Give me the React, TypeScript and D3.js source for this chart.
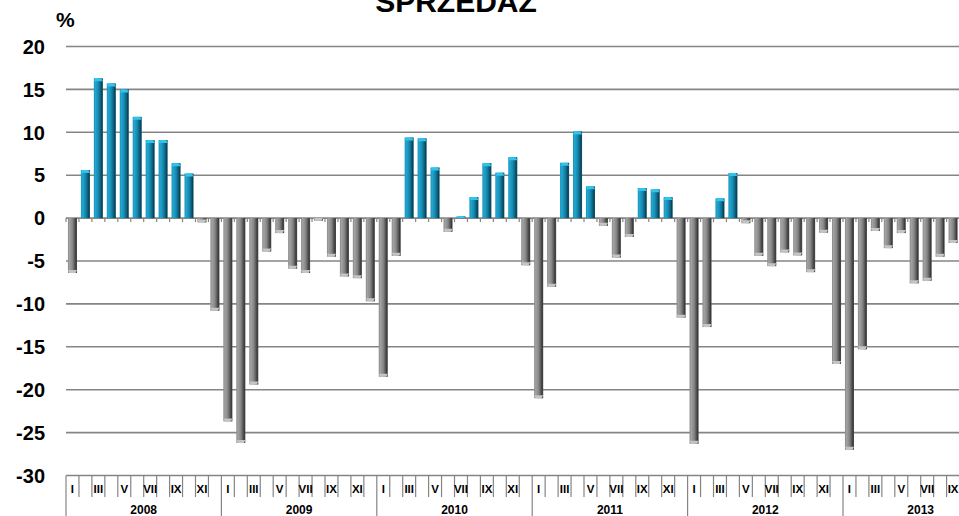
import React from "react";
import * as d3 from "d3";

const years = ["2008", "2009", "2010", "2011", "2012", "2013"];
const monthLabels = ["I", "II", "III", "IV", "V", "VI", "VII", "VIII", "IX", "X", "XI", "XII"];
const values2008 = [-6.4, 5.6, 16.3, 15.7, 15.0, 11.8, 9.1, 9.1, 6.4, 5.2, -0.5, -10.8];
const values2009 = [-23.7, -26.2, -19.4, -3.9, -1.75, -5.9, -6.4, -0.3, -4.5, -6.8, -7.0, -9.7];
const values2010 = [-18.5, -4.4, 9.4, 9.3, 5.9, -1.6, 0.2, 2.45, 6.4, 5.3, 7.1, -5.5];
const values2011 = [-21.0, -8.0, 6.45, 10.1, 3.7, -0.9, -4.6, -2.2, 3.5, 3.35, 2.45, -11.6];
const values2012 = [-26.3, -12.7, 2.3, 5.25, -0.6, -4.4, -5.6, -4.0, -4.35, -6.3, -1.7, -17.0];
const values2013 = [-27.0, -15.3, -1.5, -3.5, -1.75, -7.6, -7.3, -4.5, -2.9];
const yTicks = [20, 15, 10, 5, 0, -5, -10, -15, -20, -25, -30];
const title = "SPRZEDAŻ";
const unit = "%";

const allValues = [values2008, values2009, values2010, values2011, values2012, values2013];
const categories = years.flatMap((y) => monthLabels.map((m) => `${y}-${m}`));
const data = allValues.flatMap((arr, yi) =>
  arr.map((v, mi) => ({ key: `${years[yi]}-${monthLabels[mi]}`, year: years[yi], month: mi, value: v }))
);

const W = 959;
const H = 516;
const FONT = "'Liberation Sans', Arial, sans-serif";

export default function App() {
  const step = 12.95;
  const x0 = 66;
  const x = d3
    .scaleBand<string>()
    .domain(categories)
    .range([x0, x0 + step * categories.length])
    .paddingInner(0.3)
    .paddingOuter(0.15);
  const y = d3.scaleLinear().domain([-30, 20]).range([475.5, 46.5]);
  const y0 = y(0);
  const gridColor = "#858585";
  const xEnd = x0 + step * categories.length;
  const bw = x.bandwidth();
  const stepPx = x.step();
  const boundary = (i: number) => x0 + (x.range()[1] - x0) * (i / categories.length);

  return (
    <svg
      width={W}
      height={H}
      style={{ position: "absolute", left: 0, top: 0, background: "#fff" }}
      fontFamily={FONT}
    >
      <defs>
        <linearGradient id="gBlue" x1="0" x2="1" y1="0" y2="0">
          <stop offset="0" stopColor="#1a93bb" />
          <stop offset="0.18" stopColor="#22a6cf" />
          <stop offset="0.5" stopColor="#1589b0" />
          <stop offset="0.72" stopColor="#0e6584" />
          <stop offset="0.88" stopColor="#0a4457" />
          <stop offset="1" stopColor="#0e5a72" />
        </linearGradient>
        <linearGradient id="gGray" x1="0" x2="1" y1="0" y2="0">
          <stop offset="0" stopColor="#8a8a8a" />
          <stop offset="0.18" stopColor="#a2a2a2" />
          <stop offset="0.5" stopColor="#868686" />
          <stop offset="0.72" stopColor="#5c5c5c" />
          <stop offset="0.88" stopColor="#3a3a3a" />
          <stop offset="1" stopColor="#505050" />
        </linearGradient>
        <clipPath id="clipAll">
          <rect x={0} y={0} width={W} height={H} />
        </clipPath>
      </defs>
      <g clipPath="url(#clipAll)">
        {/* title */}
        <text x={456} y={12} fontSize={30} fontWeight="bold" textAnchor="middle" fill="#000">
          {title}
        </text>
        <text x={56} y={27} fontSize={21} fontWeight="bold" fill="#000">
          {unit}
        </text>
        {/* gridlines */}
        {yTicks
          .filter((t) => t !== -30)
          .map((t) => (
            <line key={t} x1={x0} x2={xEnd} y1={y(t)} y2={y(t)} stroke={gridColor} strokeWidth={1.6} />
          ))}
        {/* y labels */}
        {yTicks.map((t) => (
          <text
            key={"l" + t}
            x={45}
            y={y(t)}
            dy="0.36em"
            fontSize={20}
            fontWeight="bold"
            textAnchor="end"
            fill="#000"
          >
            {t}
          </text>
        ))}
        {/* bars */}
        {data.map((d) => {
          const bx = x(d.key)!;
          const yv = y(d.value);
          const pos = d.value >= 0;
          const top = Math.min(yv, y0);
          const h = Math.abs(yv - y0);
          const cap = Math.min(3, h);
          return (
            <g key={d.key}>
              <rect x={bx} y={top} width={bw} height={h} fill={pos ? "url(#gBlue)" : "url(#gGray)"} />
              {pos ? (
                <polygon
                  points={`${bx},${yv + cap} ${bx + 1.5},${yv} ${bx + bw - 1.5},${yv} ${bx + bw},${yv + cap}`}
                  fill="#2fc4ec"
                />
              ) : (
                <polygon
                  points={`${bx},${yv - cap} ${bx + 1.5},${yv} ${bx + bw - 1.5},${yv} ${bx + bw},${yv - cap}`}
                  fill="#c4c4c4"
                />
              )}
            </g>
          );
        })}
        {/* zero-line ticks */}
        {categories.map((c, i) => (
          <line
            key={"z" + c}
            x1={boundary(i)}
            x2={boundary(i)}
            y1={y0}
            y2={y0 + 4}
            stroke={gridColor}
            strokeWidth={1.2}
          />
        ))}
        {/* category axis */}
        <line x1={x0} x2={xEnd} y1={y(-30)} y2={y(-30)} stroke={gridColor} strokeWidth={1.4} />
        {categories.map((c, i) => {
          const bxx = boundary(i);
          const isYear = i % 12 === 0;
          return (
            <line
              key={"t" + c}
              x1={bxx}
              x2={bxx}
              y1={y(-30)}
              y2={isYear ? H : 497}
              stroke={gridColor}
              strokeWidth={1.2}
            />
          );
        })}
        {categories.map((c, i) =>
          i % 2 === 0 ? (
            <text
              key={"m" + c}
              x={x(c)! + bw / 2}
              y={493}
              fontSize={11.5}
              fontWeight="bold"
              textAnchor="middle"
              fill="#000"
            >
              {monthLabels[i % 12]}
            </text>
          ) : null
        )}
        {years.map((yr, i) => (
          <text
            key={"y" + yr}
            x={(boundary(i * 12) + boundary(i * 12 + 12)) / 2}
            y={514}
            fontSize={12}
            fontWeight="bold"
            textAnchor="middle"
            fill="#000"
          >
            {yr}
          </text>
        ))}
      </g>
    </svg>
  );
}
